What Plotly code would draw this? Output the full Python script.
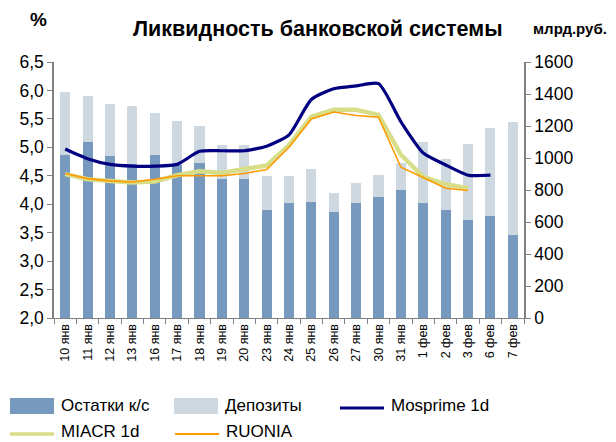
import plotly.graph_objects as go

categories = ["10 янв", "11 янв", "12 янв", "13 янв", "16 янв", "17 янв", "18 янв",
              "19 янв", "20 янв", "23 янв", "24 янв", "25 янв", "26 янв", "27 янв",
              "30 янв", "31 янв", "1 фев", "2 фев", "3 фев", "6 фев", "7 фев"]

# млрд. руб. (right axis)
corr_accounts = [1020, 1100, 1014, 965, 1020, 955, 970, 868, 870, 675, 717,
                 722, 662, 718, 758, 800, 718, 674, 611, 637, 517]
deposits = [390, 286, 323, 359, 261, 277, 232, 211, 209, 210, 168,
            208, 119, 126, 136, 170, 382, 321, 478, 553, 710]

# % (left axis)
mosprime = [4.97, 4.80, 4.70, 4.67, 4.67, 4.70, 4.93, 4.94, 4.94, 5.02, 5.22,
            5.84, 6.03, 6.08, 6.12, 5.45, 4.90, 4.69, 4.51, 4.51, None]
miacr = [4.53, 4.44, 4.41, 4.38, 4.40, 4.51, 4.58, 4.55, 4.62, 4.68, 5.04,
         5.54, 5.66, 5.66, 5.57, 4.87, 4.48, 4.35, 4.28, None, None]
ruonia = [4.54, 4.45, 4.41, 4.39, 4.44, 4.50, 4.50, 4.50, 4.54, 4.61, 5.00,
          5.50, 5.62, 5.56, 5.53, 4.65, 4.47, 4.28, 4.24, None, None]

C_DARK = "#7699BD"
C_LIGHT = "#CDD8E0"
C_MOS = "#000080"
C_MIA = "#D8DE88"
C_RUO = "#FF9900"

FONT = "Liberation Sans, Arial, sans-serif"

fig = go.Figure()
fig.add_trace(go.Bar(x=categories, y=corr_accounts, name="Остатки к/с",
                     marker=dict(color=C_DARK, line=dict(width=0)), yaxis="y"))
fig.add_trace(go.Bar(x=categories, y=deposits, name="Депозиты",
                     marker=dict(color=C_LIGHT, line=dict(width=0)), yaxis="y"))
fig.add_trace(go.Scatter(x=categories, y=miacr, name="MIACR 1d", mode="lines",
                         line=dict(color=C_MIA, width=4.5), yaxis="y2"))
fig.add_trace(go.Scatter(x=categories, y=ruonia, name="RUONIA", mode="lines",
                         line=dict(color=C_RUO, width=1.6), yaxis="y2"))
fig.add_trace(go.Scatter(x=categories, y=mosprime, name="Mosprime 1d", mode="lines",
                         line=dict(color=C_MOS, width=3.2, shape="spline", smoothing=0.6),
                         yaxis="y2"))

# the page places the figure 8px from the top-left corner of the window
OFF = 8
W, H = 616 - OFF, 442 - OFF
L, R, T, B = 54 - OFF, 92, 62 - OFF, 124
pw, ph = W - L - R, H - T - B


def px(x):
    return (x - OFF - L) / pw


def py(y):
    return (H - B - (y - OFF)) / ph


annotations = [
    dict(text="<b>Ликвидность банковской системы</b>", x=px(318), y=py(29),
         font=dict(size=21.5, color="black")),
    dict(text="<b>%</b>", x=px(38), y=py(19), font=dict(size=19, color="black")),
    dict(text="<b>млрд.руб.</b>", x=px(570), y=py(28), font=dict(size=15, color="black")),
]
for a in annotations:
    a.update(xref="paper", yref="paper", showarrow=False, xanchor="center", yanchor="middle")

shapes = []
legend_items = [
    ("box", C_DARK, 10, 406, "Остатки к/с"),
    ("box", C_LIGHT, 174, 406, "Депозиты"),
    ("line", C_MOS, 340, 406, "Mosprime 1d", 3),
    ("line", C_MIA, 10, 432, "MIACR 1d", 3.5),
    ("line", C_RUO, 175, 432, "RUONIA", 1.8),
]
for it in legend_items:
    kind, col, x0, yc, label = it[:5]
    if kind == "box":
        shapes.append(dict(type="rect", xref="paper", yref="paper",
                           x0=px(x0), x1=px(x0 + 44), y0=py(yc - 8), y1=py(yc + 8),
                           fillcolor=col, line=dict(width=0)))
    else:
        shapes.append(dict(type="line", xref="paper", yref="paper",
                           x0=px(x0), x1=px(x0 + 44), y0=py(yc + 2), y1=py(yc + 2),
                           line=dict(color=col, width=it[5])))
    annotations.append(dict(text=label, xref="paper", yref="paper", showarrow=False,
                            x=px(x0 + 49), y=py(yc - 1), xanchor="left", yanchor="middle",
                            font=dict(size=17, color="black")))

fig.update_layout(
    width=W, height=H,
    margin=dict(l=L, r=R, t=T, b=B, pad=0),
    paper_bgcolor="white", plot_bgcolor="white",
    font=dict(family=FONT, color="black"),
    separators=", ",
    barmode="stack", bargap=0.55,
    showlegend=False,
    xaxis=dict(type="category", tickson="boundaries", ticks="outside", ticklen=5,
               tickcolor="#808080", showline=True, linecolor="#808080", linewidth=1,
               tickangle=-90, tickfont=dict(size=12.5, color="black"),
               showgrid=False, zeroline=False, automargin=False),
    yaxis=dict(range=[0, 1600], dtick=200, side="right", ticks="outside", ticklen=5,
               tickcolor="#808080", showline=True, linecolor="#808080", linewidth=1.5,
               tickfont=dict(size=17.5, color="black"), showgrid=False, zeroline=False,
               tickformat="d", automargin=False),
    yaxis2=dict(range=[2, 6.5], dtick=0.5, side="left", overlaying="y", ticks="outside",
                ticklen=5, tickcolor="#808080", showline=True, linecolor="#808080",
                linewidth=1.5, tickfont=dict(size=17.5, color="black"), showgrid=False,
                zeroline=False, tickformat=".1f", anchor="x", automargin=False),
    annotations=annotations,
    shapes=shapes,
)

fig.write_html("out.html")
